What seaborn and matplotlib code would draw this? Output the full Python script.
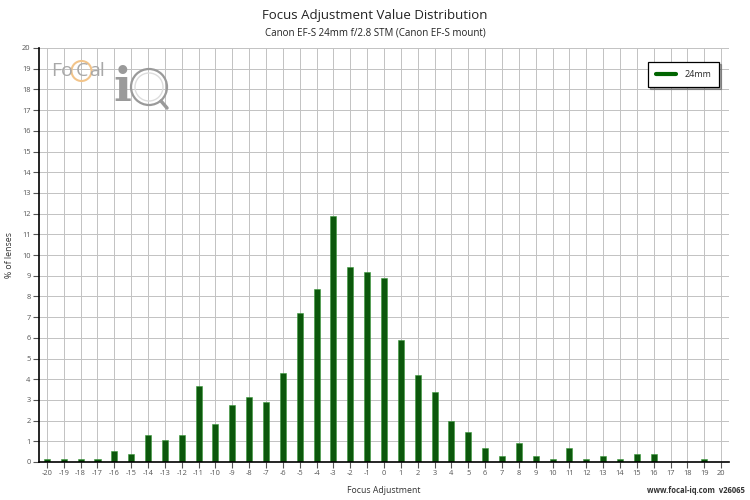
import numpy as np
import pandas as pd
import matplotlib
matplotlib.use("Agg")
import matplotlib.pyplot as plt
import seaborn as sns
from matplotlib.patches import Ellipse
from matplotlib.lines import Line2D

adjust = list(range(-20, 21))
pct = [0.14, 0.14, 0.14, 0.14, 0.53, 0.40, 1.31, 1.06, 1.31, 3.66,
       1.84, 2.74, 3.14, 2.89, 4.32, 7.19, 8.37, 11.90, 9.42, 9.16,
       8.90, 5.89, 4.19, 3.40, 1.98, 1.45, 0.66, 0.27, 0.93, 0.27,
       0.14, 0.66, 0.14, 0.27, 0.14, 0.40, 0.40, 0.0, 0.0, 0.14, 0.0]
series_name = "24mm"
title = "Focus Adjustment Value Distribution"
subtitle = "Canon EF-S 24mm f/2.8 STM (Canon EF-S mount)"

df = pd.DataFrame({"adj": adjust, "pct": pct, "series": series_name})

sns.set_theme(style="white")
plt.rcParams['font.family'] = ['Open Sans', 'DejaVu Sans']

W, H = 750, 500
fig = plt.figure(figsize=(7.5, 5), dpi=100)
ax = fig.add_axes([0.052, 0.076, 0.920, 0.828])

ax.set_axisbelow(True)
sns.barplot(data=df, x="adj", y="pct", hue="series", native_scale=True,
            width=0.36, palette=["#006400"], ax=ax, legend=False,
            edgecolor="#3a9a3a", linewidth=0.4)

ax.set_xlim(-20.47, 20.47)
ax.set_ylim(0, 20)
ax.set_xticks(adjust)
ax.set_xticklabels([str(a) for a in adjust])
ax.set_yticks(range(0, 21))
ax.grid(True, color="#c2c2c2", linewidth=0.7)
ax.tick_params(axis="both", labelsize=5.4, colors="#555555", length=4,
               width=0.8, direction="out", bottom=True, left=True, pad=2)
for s in ["top", "right"]:
    ax.spines[s].set_visible(False)
for s in ["left", "bottom"]:
    ax.spines[s].set_color("black")
    ax.spines[s].set_linewidth(1.2)

ax.set_xlabel("Focus Adjustment", fontsize=6.3, color="#333333", labelpad=6)
ax.set_ylabel("% of lenses", fontsize=6.3, color="#333333", labelpad=6)

fig.text(0.5, 0.968, title, ha="center", va="center", fontsize=9.5, color="#222222")
fig.text(0.5, 0.934, subtitle, ha="center", va="center", fontsize=7, color="#222222")
fig.text(0.993, 0.010, "www.focal-iq.com  v26065", ha="right", va="bottom",
         fontsize=5.5, color="#333333", fontweight="bold")

# legend
h = [Line2D([0], [0], color="#006400", lw=3)]
leg = ax.legend(h, [series_name], loc="upper right", bbox_to_anchor=(0.99, 0.973),
                fontsize=6.5, frameon=True, fancybox=False,
                shadow={"ox": 1.5, "oy": -1.5, "alpha": 0.45},
                handlelength=2.2, borderpad=0.9, handletextpad=0.9,
                borderaxespad=0.3)
leg.get_frame().set_edgecolor("black")
leg.get_frame().set_linewidth(0.9)

# logo (pixel coordinates converted to figure fraction)
def fx(px):
    return px / W
def fy(py):
    return 1 - py / H

fig.text(fx(73), fy(71), "Fo", fontsize=14, color="#a8a8a8", va="center", ha="right")
fig.text(fx(81.5), fy(71), "C", fontsize=14, color="#a8a8a8", va="center", ha="center")
fig.text(fx(89), fy(71), "al", fontsize=14, color="#a8a8a8", va="center", ha="left")
fig.patches.append(Ellipse((fx(81.5), fy(71)), 20 / W, 20 / H, transform=fig.transFigure,
                           fill=False, edgecolor="#f2c48a", linewidth=1.5))
fig.text(fx(122), fy(88), "i", fontsize=34, color="#9a9a9a", va="center", ha="center",
         fontweight="bold", family="DejaVu Serif")
fig.patches.append(Ellipse((fx(149), fy(87)), 36 / W, 36 / H, transform=fig.transFigure,
                           fill=False, edgecolor="#9a9a9a", linewidth=1.6))
fig.patches.append(Ellipse((fx(149), fy(87)), 28 / W, 28 / H, transform=fig.transFigure,
                           fill=False, edgecolor="#dddddd", linewidth=1.0))
fig.lines.append(Line2D([fx(161), fx(167)], [fy(101), fy(108)], transform=fig.transFigure,
                        color="#9a9a9a", lw=2.5))

fig.savefig("out.png", dpi=100)
